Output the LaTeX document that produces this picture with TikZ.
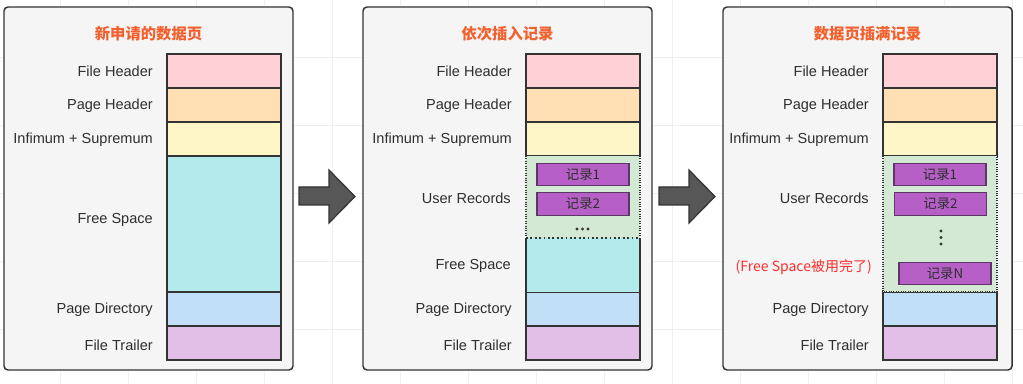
\documentclass[tikz,border=0pt]{standalone}
\usepackage{fontspec}
\setmainfont{Liberation Sans}
\newfontfamily\cjk{Noto Sans CJK SC}
\usetikzlibrary{positioning}

\definecolor{frameC}{HTML}{333333}
\definecolor{panelC}{HTML}{F5F5F5}
\definecolor{txtC}{HTML}{2E2E2E}
\definecolor{ttlC}{HTML}{F2602E}
\definecolor{redC}{HTML}{FF2D2D}
\definecolor{fhC}{HTML}{FFD0D6}
\definecolor{phC}{HTML}{FFDFB3}
\definecolor{isC}{HTML}{FFF6C8}
\definecolor{fsC}{HTML}{B3EAEC}
\definecolor{urC}{HTML}{D3E9D3}
\definecolor{pdC}{HTML}{C2DFF8}
\definecolor{ftC}{HTML}{E1BFE6}
\definecolor{recF}{HTML}{B660C7}
\definecolor{recD}{HTML}{5E3569}
\definecolor{arrC}{HTML}{575757}
\definecolor{gridC}{HTML}{F0F0F0}

\tikzset{
  lbl/.style={anchor=east, inner sep=0pt, text=txtC, font=\fontsize{10.9}{12}\selectfont},
  ttl/.style={inner sep=0pt, text=ttlC, font=\cjk\bfseries\fontsize{11.5}{13}\selectfont},
  seg/.style={draw=frameC, line width=1pt},
  rec/.style={draw=recD, fill=recF, line width=0.9pt, minimum width=69pt,
    minimum height=17pt, inner sep=0pt, text=txtC, font=\cjk\fontsize{10}{11}\selectfont},
  panel/.style={draw=frameC, fill=panelC, line width=1.1pt, rounded corners=3pt},
  blockarrow/.style={draw=frameC, fill=arrC, line width=0.9pt, line join=miter},
}

\begin{document}
\begin{tikzpicture}[x=0.75pt, y=-0.75pt]
  \useasboundingbox[fill=white] (0,0) rectangle (1023,384);

  % faint grid behind
  \foreach \gx in {60,128,...,1023} \draw[gridC, line width=0.5pt] (\gx,0) -- (\gx,384);
  \foreach \gy in {57,125,...,384} \draw[gridC, line width=0.5pt] (0,\gy) -- (1023,\gy);

  % three pages, common rows
  \foreach \px/\cx/\i/\ttext in {4/167/1/新申请的数据页, 363/526/2/依次插入记录, 723/883/3/数据页插满记录}{
    \draw[panel] (\px,7) rectangle ++(289,363);
    \node[ttl] (title\i) at (\px+144.5,34) {\ttext};

    \draw[seg, fill=fhC] (\cx,54) rectangle ++(114,34);
    \draw[seg, fill=phC] (\cx,88) rectangle ++(114,34);
    \draw[seg, fill=isC] (\cx,122) rectangle ++(114,34);
    \draw[seg, fill=pdC] (\cx,292) rectangle ++(114,34);
    \draw[seg, fill=ftC] (\cx,326) rectangle ++(114,34);

    \node[lbl] (fh\i) at (\cx-14,71) {File Header};
    \node[lbl] (ph\i) at (\cx-14,106) {Page Header};
    \node[lbl] (is\i) at (\cx-14,140) {Infimum + Supremum};
    \node[lbl] (pd\i) at (\cx-14,310) {Page Directory};
    \node[lbl] (ft\i) at (\cx-14,345.5) {File Trailer};
  }

  % page 1: all free
  \draw[seg, fill=fsC] (167,156) rectangle (281,292);
  \node[lbl] (fs1) at (153,220) {Free Space};

  % page 2: some records
  \fill[fsC] (526,238) rectangle (640,292);
  \draw[seg] (526,238) -- (526,292);
  \draw[seg] (640,238) -- (640,292);
  \fill[urC] (526,156) rectangle (640,238);
  \draw[frameC, line width=0.8pt, densely dotted] (526,156) -- (526,238);
  \draw[frameC, line width=0.8pt, densely dotted] (640,156) -- (640,238);
  \draw[frameC, line width=1.3pt, dotted] (526,238) -- (640,238);
  \node[rec] (r21) at (583,174.5) {记录1};
  \node[rec] (r22) at (583,204) {记录2};
  \fill[frameC] (577,229) circle (1.6) (582.5,229) circle (1.6) (588,229) circle (1.6);
  \node[lbl] (ur2) at (511,198) {User Records};
  \node[lbl] (fs2) at (511,266) {Free Space};

  % page 3: full
  \fill[urC] (883,156) rectangle (997,292);
  \draw[frameC, line width=0.8pt, densely dotted] (883,156) -- (883,292) -- (997,292) -- (997,156);
  \node[rec] (r31) at (940,174.5) {记录1};
  \node[rec] (r32) at (940.5,204) {记录2};
  \fill[frameC] (941,231) circle (1.6) (941,237.5) circle (1.6) (941,244) circle (1.6);
  \node[rec] (r3n) at (945,273.5) {记录N};
  \node[lbl] (ur3) at (869,198) {User Records};
  \node[lbl, text=redC, font=\cjk\fontsize{10.5}{12}\selectfont] (full3) at (872,267) {(Free Space被用完了)};

  % block arrows between pages
  \foreach \ax in {0,360}
    \draw[blockarrow] (299+\ax,187) -- (329+\ax,187) -- (329+\ax,170) -- (355+\ax,196.5)
      -- (329+\ax,223) -- (329+\ax,205) -- (299+\ax,205) -- cycle;
\end{tikzpicture}
\end{document}
